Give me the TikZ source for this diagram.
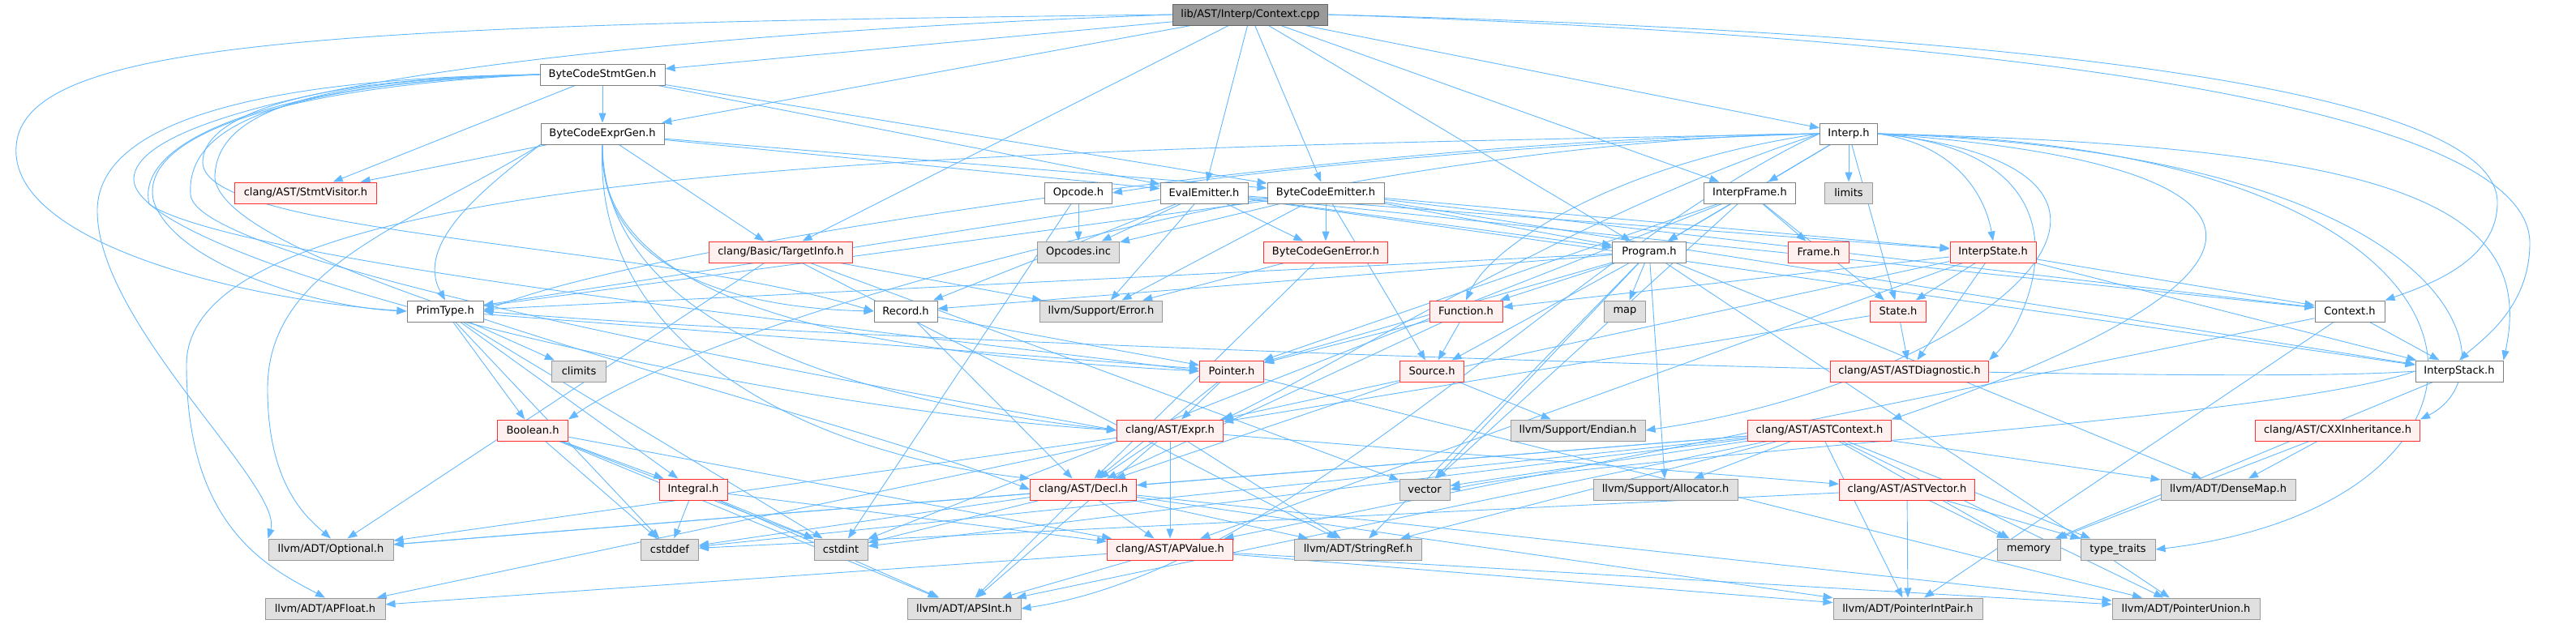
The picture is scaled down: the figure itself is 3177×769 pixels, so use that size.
\documentclass[tikz,border=0pt]{standalone}
\usepackage{fontspec}
\setmainfont{DejaVu Sans}
\usetikzlibrary{arrows.meta}
\pgfdeclarelayer{bg}
\pgfsetlayers{bg,main}
\definecolor{edgeblue}{HTML}{63B8FF}
\definecolor{wborder}{HTML}{808080}
\definecolor{gfill}{HTML}{E0E0E0}
\definecolor{gborder}{HTML}{999999}
\definecolor{rfill}{HTML}{FFF0F0}
\definecolor{rborder}{HTML}{FF3030}
\definecolor{rootfill}{HTML}{999999}
\definecolor{rootborder}{HTML}{666666}
\tikzset{
  base/.style={rectangle, minimum height=26pt, inner sep=0pt, line width=1pt,
    font=\fontsize{13}{15}\selectfont, text=black},
  wn/.style={base, draw=wborder, fill=white},
  gn/.style={base, draw=gborder, fill=gfill},
  rn/.style={base, draw=rborder, fill=rfill},
  root/.style={base, draw=rootborder, fill=rootfill},
  e/.style={draw=edgeblue, line width=0.9pt, -{Triangle[length=12pt,width=9pt]}}
}
\begin{document}
\begin{tikzpicture}[x=1pt,y=-1pt]
\useasboundingbox (0,0) rectangle (3177,769);
% nodes
\node[root, minimum width=191pt] (cpp) at (1542,18) {lib/AST/Interp/Context.cpp};
\node[wn, minimum width=154pt] (sg) at (743,92) {ByteCodeStmtGen.h};
\node[wn, minimum width=152pt] (eg) at (743,165) {ByteCodeExprGen.h};
\node[rn, minimum width=175pt] (sv) at (377,238) {clang/AST/StmtVisitor.h};
\node[wn, minimum width=94pt] (pt) at (549,384) {PrimType.h};
\node[rn, minimum width=177pt] (ti) at (963,311) {clang/Basic/TargetInfo.h};
\node[wn, minimum width=83pt] (op) at (1330,238) {Opcode.h};
\node[wn, minimum width=108pt] (ee) at (1485,238) {EvalEmitter.h};
\node[wn, minimum width=144pt] (be) at (1635,238) {ByteCodeEmitter.h};
\node[gn, minimum width=101pt] (oi) at (1330,311) {Opcodes.inc};
\node[rn, minimum width=153pt] (bge) at (1635,311) {ByteCodeGenError.h};
\node[wn, minimum width=78pt] (rec) at (1117,384) {Record.h};
\node[gn, minimum width=151pt] (err) at (1358,384) {llvm/Support/Error.h};
\node[wn, minimum width=71pt] (ip) at (2280,165) {Interp.h};
\node[wn, minimum width=113pt] (if) at (2158,238) {InterpFrame.h};
\node[gn, minimum width=59pt] (lim) at (2280,238) {limits};
\node[wn, minimum width=91pt] (pg) at (2034,311) {Program.h};
\node[rn, minimum width=75pt] (fr) at (2243,311) {Frame.h};
\node[rn, minimum width=90pt] (fn) at (1808,384) {Function.h};
\node[gn, minimum width=51pt] (map) at (2004,384) {map};
\node[rn, minimum width=69pt] (st) at (2341,384) {State.h};
\node[rn, minimum width=106pt] (is) at (2458,311) {InterpState.h};
\node[wn, minimum width=86pt] (ctx) at (2898,384) {Context.h};
\node[wn, minimum width=108pt] (ist) at (3033,458) {InterpStack.h};
\node[rn, minimum width=203pt] (cxx) at (2883,531) {clang/AST/CXXInheritance.h};
\node[gn, minimum width=166pt] (dm) at (2748,604) {llvm/ADT/DenseMap.h};
\node[gn, minimum width=78pt] (mem) at (2502,678) {memory};
\node[gn, minimum width=92pt] (tt) at (2612,678) {type\_traits};
\node[gn, minimum width=182pt] (pu) at (2696,751) {llvm/ADT/PointerUnion.h};
\node[gn, minimum width=184pt] (pip) at (2353,751) {llvm/ADT/PointerIntPair.h};
\node[rn, minimum width=167pt] (avec) at (2352,604) {clang/AST/ASTVector.h};
\node[rn, minimum width=195pt] (ad) at (2355,458) {clang/AST/ASTDiagnostic.h};
\node[rn, minimum width=177pt] (ac) at (2244,531) {clang/AST/ASTContext.h};
\node[gn, minimum width=166pt] (end) at (1946,531) {llvm/Support/Endian.h};
\node[rn, minimum width=79pt] (src) at (1766,458) {Source.h};
\node[gn, minimum width=62pt] (vec) at (1757,604) {vector};
\node[gn, minimum width=178pt] (alloc) at (2054,604) {llvm/Support/Allocator.h};
\node[gn, minimum width=157pt] (sr) at (1675,678) {llvm/ADT/StringRef.h};
\node[rn, minimum width=79pt] (ptr) at (1519,458) {Pointer.h};
\node[rn, minimum width=131pt] (ex) at (1443,531) {clang/AST/Expr.h};
\node[rn, minimum width=131pt] (de) at (1336,604) {clang/AST/Decl.h};
\node[rn, minimum width=155pt] (av) at (1443,678) {clang/AST/APValue.h};
\node[gn, minimum width=140pt] (aps) at (1189,751) {llvm/ADT/APSInt.h};
\node[gn, minimum width=66pt] (ci) at (1037,678) {cstdint};
\node[gn, minimum width=71pt] (cd) at (826,678) {cstddef};
\node[rn, minimum width=84pt] (in) at (855,604) {Integral.h};
\node[rn, minimum width=87pt] (bo) at (657,531) {Boolean.h};
\node[gn, minimum width=67pt] (cl) at (714,458) {climits};
\node[gn, minimum width=154pt] (opt) at (408,678) {llvm/ADT/Optional.h};
\node[gn, minimum width=148pt] (apf) at (401,751) {llvm/ADT/APFloat.h};
% edges
\begin{pgfonlayer}{bg}
\foreach \a/\b in {cpp/sg, cpp/eg, cpp/ee, cpp/be, cpp/ip, cpp/if, cpp/pg, cpp/ti,
 sg/eg, sg/be, sg/ee, sg/sv,
 eg/be, eg/ee, eg/sv, eg/ti,
 ee/oi, ee/err, ee/bge, ee/ctx, ee/ist, ee/is, ee/pt, ee/pg, ee/rec,
 be/bge, be/oi, be/err, be/ctx, be/ist, be/is, be/pt, be/pg, be/src,
 op/oi, op/ci, bge/err, bge/de,
 ti/opt, ti/err, ti/sr, ti/vec,
 pg/fn, pg/ptr, pg/pt, pg/rec, pg/src, pg/dm, pg/pu, pg/sr, pg/alloc, pg/map, pg/vec,
 if/fr, if/ptr, if/pg, if/st, if/ci, if/vec,
 ip/if, ip/lim, ip/st, ip/pg,
 is/ctx, is/fn, is/ist, is/st, is/av, is/ad, is/ex,
 st/ad, st/ex, fn/ptr, fn/src, fn/de, src/de, src/end,
 ptr/ex, ptr/de, ptr/pu, rec/ptr, rec/de,
 ctx/ist, ctx/av, ctx/pip, ist/mem,
 pt/bo, pt/in, pt/ptr, pt/cl, pt/cd, pt/ci,
 bo/in, bo/av, bo/aps, bo/cd, bo/ci,
 in/av, in/aps, in/cd, in/ci,
 ex/av, ex/avec, ex/de, ex/apf, ex/aps, ex/sr, ex/opt,
 de/av, de/aps, de/pip, de/pu, de/sr, de/opt, de/cd, de/ci,
 av/apf, av/aps, av/pip, av/pu,
 avec/pip, avec/mem, avec/tt, avec/cd,
 ac/de, ac/dm, ac/opt, ac/pip, ac/pu, ac/sr, ac/alloc, ac/cd, ac/ci, ac/mem, ac/vec, ac/tt, ac/aps,
 cxx/dm, cxx/mem}
 \draw[e] (\a) -- (\b);
% routed edges from Context.cpp
\draw[e] (cpp.west) .. controls (400,30) and (30,50) .. (20,180) .. controls (10,300) and (300,370) .. (pt.west);
\draw[e] (cpp.west) .. controls (700,45) and (170,120) .. (165,220) .. controls (160,320) and (900,500) .. (ex.west);
\draw[e] (cpp.east) .. controls (2500,40) and (3080,110) .. (3080,250) .. controls (3080,320) and (3000,350) .. (ctx.north east);
\draw[e] (cpp.east) .. controls (2600,50) and (3120,150) .. (3120,300) .. controls (3120,380) and (3060,420) .. (ist.north);
% routed edges from ByteCodeStmtGen (left side)
\draw[e] (sg.west) .. controls (400,95) and (120,130) .. (120,260) .. controls (120,400) and (350,600) .. (opt.north west);
\draw[e] (sg.west) .. controls (300,110) and (170,180) .. (190,250) .. controls (220,330) and (400,380) .. (pt.west);
\draw[e] (sg.west) .. controls (350,97) and (250,150) .. (250,200) .. controls (250,290) and (800,300) .. (rec.west);
\draw[e] (sg.west) .. controls (350,100) and (165,170) .. (184,252) .. controls (300,330) and (1200,420) .. (ptr.west);
\draw[e] (sg.west) .. controls (350,98) and (265,150) .. (265,220) .. controls (280,340) and (1000,500) .. (de.west);
\draw[e] (sg.west) .. controls (330,104) and (230,160) .. (235,240) .. controls (240,330) and (1100,480) .. (ex.west);
% routed edges from ByteCodeExprGen
\draw[e] (eg.south west) .. controls (500,280) and (330,330) .. (330,480) .. controls (330,600) and (380,640) .. (opt.north);
\draw[e] (eg.south west) .. controls (600,230) and (510,300) .. (pt.north);
\draw[e] (eg.south) .. controls (738,330) and (900,380) .. (rec.west);
\draw[e] (eg.south) .. controls (733,400) and (1150,440) .. (ptr.west);
\draw[e] (eg.south) .. controls (730,430) and (1000,560) .. (de.north west);
\draw[e] (eg.south) .. controls (745,420) and (1100,500) .. (ex.west);
% routed edges from Interp.h
\draw[e] (ip.west) .. controls (1200,185) and (230,200) .. (230,450) .. controls (230,650) and (330,700) .. (apf.north);
\draw[e] (ip.west) .. controls (1700,168) and (800,300) .. (pt.east);
\draw[e] (ip.west) .. controls (1700,172) and (900,380) .. (bo.north east);
\draw[e] (ip.west) .. controls (1900,175) and (1550,210) .. (op.east);
\draw[e] (ip.west) .. controls (2000,200) and (1840,300) .. (fn.north);
\draw[e] (ip.west) .. controls (1950,260) and (1650,450) .. (ex.north east);
\draw[e] (ip.west) .. controls (1950,300) and (1600,700) .. (aps.east);
\draw[e] (ip.east) .. controls (2420,180) and (2450,250) .. (is.north);
\draw[e] (ip.east) .. controls (2600,190) and (2500,400) .. (ad.north east);
\draw[e] (ip.east) .. controls (2820,200) and (2880,330) .. (ac.north east);
\draw[e] (ip.east) .. controls (2750,210) and (2450,470) .. (end.east);
\draw[e] (ip.east) .. controls (2950,180) and (3130,250) .. (ist.north east);
\draw[e] (ip.east) .. controls (3050,190) and (3100,460) .. (cxx.north east);
\draw[e] (ip.east) .. controls (3150,180) and (3150,620) .. (tt.east);
% routed edges from InterpStack
\draw[e] (ist.west) .. controls (2700,480) and (1000,420) .. (pt.east);
\draw[e] (ist.west) .. controls (2800,520) and (2000,560) .. (vec.east);
\end{pgfonlayer}
\end{tikzpicture}
\end{document}
